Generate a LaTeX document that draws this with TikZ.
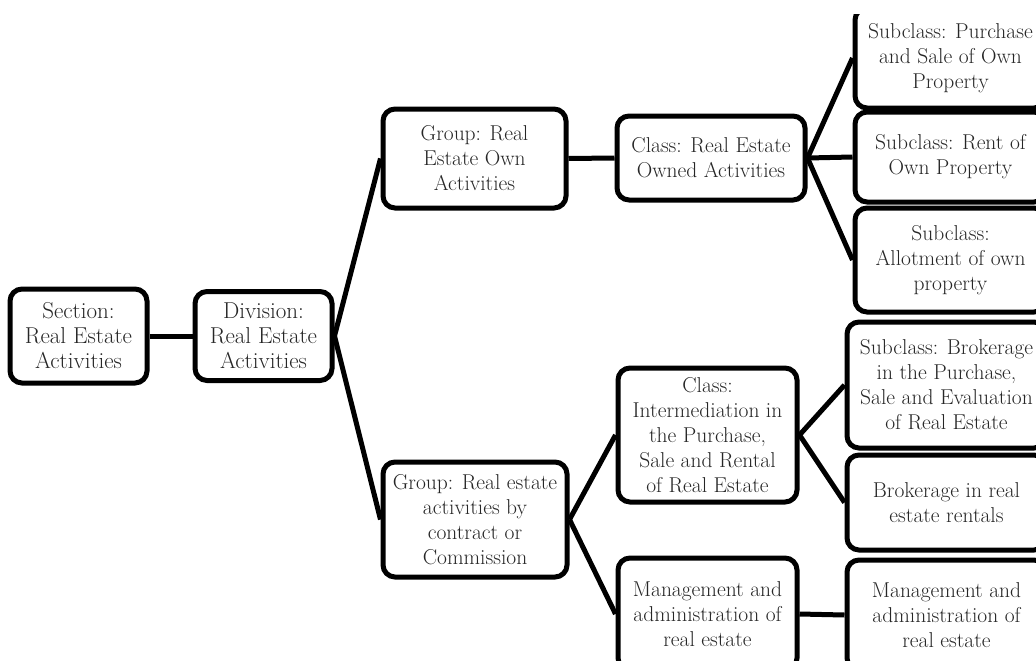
\documentclass[tikz,border=0pt]{standalone}
\begin{document}
\begin{tikzpicture}[x=1pt,y=-1pt,
  box/.style={draw=black, line width=5pt, rounded corners=12pt, inner sep=0pt,
    align=center, text=black!85, font=\fontsize{21.5}{25}\selectfont},
  bigbox/.style={box, font=\fontsize{23}{25}\selectfont},
  conn/.style={draw=black, line width=5pt}]
\useasboundingbox (0,0) rectangle (1036,661);
\begin{scope}
\clip (0,15) rectangle (1036,661);
\node[bigbox, minimum width=137pt, minimum height=94pt] (sec) at (78.5,336) {Section:\\Real Estate\\Activities};
\node[bigbox, minimum width=137pt, minimum height=89pt] (div) at (263.5,336) {Division:\\Real Estate\\Activities};
\node[box, minimum width=183pt, minimum height=99pt] (gown) at (474.5,158.5) {Group: Real\\Estate Own\\Activities};
\node[box, minimum width=188pt, minimum height=84pt] (cown) at (711,158) {Class: Real Estate\\Owned Activities};
\node[box, minimum width=191pt, minimum height=100pt] (spur) at (950.5,58) {Subclass: Purchase\\and Sale of Own\\Property};
\node[box, minimum width=191pt, minimum height=90pt] (srent) at (950.5,157) {Subclass: Rent of\\Own Property};
\node[box, minimum width=191pt, minimum height=104pt] (sallot) at (950.5,260) {Subclass:\\Allotment of own\\property};
\node[box, minimum width=184pt, minimum height=115pt] (gcon) at (475,519.5) {Group: Real estate\\activities by\\contract or\\Commission};
\node[box, minimum width=179pt, minimum height=134pt] (cint) at (707.5,435) {Class:\\Intermediation in\\the Purchase,\\Sale and Rental\\of Real Estate};
\node[box, minimum width=179pt, minimum height=112pt] (mmid) at (707.5,614) {Management and\\administration of\\real estate};
\node[box, minimum width=199pt, minimum height=126pt] (sbrok) at (946.5,385) {Subclass: Brokerage\\in the Purchase,\\Sale and Evaluation\\of Real Estate};
\node[box, minimum width=199pt, minimum height=95pt] (brent) at (946.5,502.5) {Brokerage in real\\estate rentals};
\node[box, minimum width=199pt, minimum height=110pt] (mright) at (946.5,615) {Management and\\administration of\\real estate};
\draw[conn] (sec.east) -- (div.west);
\draw[conn] (div.east) -- (gown.west);
\draw[conn] (div.east) -- (gcon.west);
\draw[conn] (gown.east) -- (cown.west);
\draw[conn] (cown.east) -- (spur.west);
\draw[conn] (cown.east) -- (srent.west);
\draw[conn] (cown.east) -- (sallot.west);
\draw[conn] (gcon.east) -- (cint.west);
\draw[conn] (gcon.east) -- (mmid.west);
\draw[conn] (cint.east) -- (sbrok.west);
\draw[conn] (cint.east) -- (brent.west);
\draw[conn] (mmid.east) -- (mright.west);
\end{scope}
\end{tikzpicture}
\end{document}
